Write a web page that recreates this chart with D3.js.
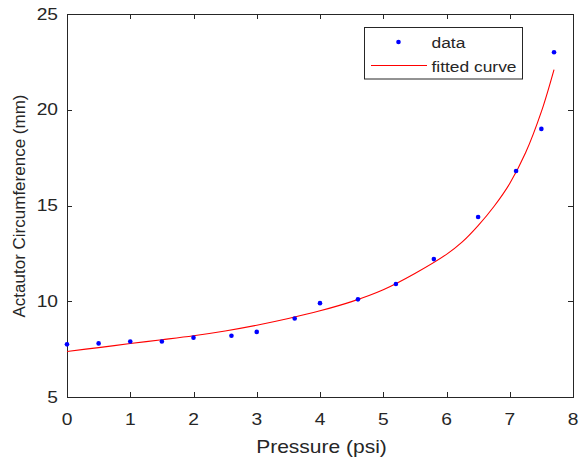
<!DOCTYPE html>
<html lang="en">
  <head>
    <meta charset="utf-8" />
    <script src="https://d3js.org/d3.v7.min.js"></script>
    <style>
      body {
        margin: 0;
        background-color: #fff;
      }
      text {
        font-family: Arial, "Liberation Sans", sans-serif;
        fill: #262626;
      }
      .axis path,
      .axis line {
        stroke: #262626;
        stroke-width: 1px;
        shape-rendering: crispEdges;
      }
    </style>
  </head>
  <body>
    <div id="chart"></div>

    <script>
      // measured points
      const pressure = [0, 0.5, 1, 1.5, 2, 2.6, 3, 3.6, 4, 4.6, 5.2, 5.8, 6.5, 7.1, 7.5, 7.7];
      const circumference = [7.75, 7.8, 7.9, 7.9, 8.1, 8.2, 8.4, 9.1, 9.9, 10.1, 10.9, 12.2, 14.4, 16.8, 19.0, 23.0];

      // fitted curve
      const fitX = [0, 0.5, 1, 1.5, 2, 2.5, 3, 3.5, 4, 4.5, 5, 5.5, 6, 6.25, 6.5, 6.75, 7, 7.25, 7.5, 7.7];
      const fitY = [7.38, 7.58, 7.79, 7.99, 8.2, 8.45, 8.75, 9.1, 9.5, 9.98, 10.6, 11.45, 12.45, 13.1, 13.95, 14.95, 16.15, 17.75, 19.9, 22.1];

      const xTicks = [0, 1, 2, 3, 4, 5, 6, 7, 8];
      const yTicks = [5, 10, 15, 20, 25];

      const width = 579;
      const height = 462;
      const margin = { top: 14, right: 6, bottom: 65, left: 67 };
      const stretch = 1.2; // text in the picture is a bit wide

      const svg = d3
        .select("#chart")
        .append("svg")
        .attr("width", width)
        .attr("height", height);

      const x = d3
        .scaleLinear()
        .domain([0, 8])
        .range([margin.left, width - margin.right]);

      const y = d3
        .scaleLinear()
        .domain([5, 25])
        .range([height - margin.bottom, margin.top]);

      // ticks point inwards, like matlab
      svg
        .append("g")
        .attr("class", "axis")
        .attr("transform", `translate(0,${y(5)})`)
        .call(d3.axisBottom(x).tickValues(xTicks).tickSizeInner(-5).tickSizeOuter(0).tickFormat(""));
      svg
        .append("g")
        .attr("class", "axis")
        .attr("transform", `translate(0,${y(25)})`)
        .call(d3.axisTop(x).tickValues(xTicks).tickSizeInner(-5).tickSizeOuter(0).tickFormat(""));
      svg
        .append("g")
        .attr("class", "axis")
        .attr("transform", `translate(${x(0)},0)`)
        .call(d3.axisLeft(y).tickValues(yTicks).tickSizeInner(-5).tickSizeOuter(0).tickFormat(""));
      svg
        .append("g")
        .attr("class", "axis")
        .attr("transform", `translate(${x(8)},0)`)
        .call(d3.axisRight(y).tickValues(yTicks).tickSizeInner(-5).tickSizeOuter(0).tickFormat(""));

      // tick labels
      svg
        .selectAll(".xlab")
        .data(xTicks)
        .join("text")
        .attr("class", "xlab")
        .attr("text-anchor", "middle")
        .style("font-size", "16px")
        .attr("transform", (d) => `translate(${x(d)},${y(5) + 28}) scale(${stretch},1)`)
        .text((d) => d);

      svg
        .selectAll(".ylab")
        .data(yTicks)
        .join("text")
        .attr("class", "ylab")
        .attr("text-anchor", "end")
        .style("font-size", "16px")
        .attr("transform", (d) => `translate(${x(0) - 9},${y(d) + 5.7}) scale(${stretch},1)`)
        .text((d) => d);

      // axis titles
      svg
        .append("text")
        .attr("text-anchor", "middle")
        .style("font-size", "17.5px")
        .attr("transform", `translate(${(x(0) + x(8)) / 2 + 1.5},453) scale(${stretch},1)`)
        .text("Pressure (psi)");

      svg
        .append("text")
        .attr("text-anchor", "middle")
        .style("font-size", "17px")
        .attr("transform", `translate(25,206) rotate(-90)`)
        .text("Actautor Circumference (mm)");

      // fitted curve
      const line = d3
        .line()
        .x((d, i) => x(fitX[i]))
        .y((d) => y(d))
        .curve(d3.curveCatmullRom);

      svg
        .append("path")
        .datum(fitY)
        .attr("d", line)
        .attr("fill", "none")
        .attr("stroke", "#ff0000")
        .attr("stroke-width", 1.1);

      // data points
      svg
        .selectAll(".pt")
        .data(circumference)
        .join("circle")
        .attr("class", "pt")
        .attr("cx", (d, i) => x(pressure[i]))
        .attr("cy", (d) => y(d))
        .attr("r", 2.3)
        .attr("fill", "#0000ff");

      // legend
      const lg = svg.append("g");
      lg.append("rect")
        .attr("x", 364.5)
        .attr("y", 27.5)
        .attr("width", 158)
        .attr("height", 51.5)
        .attr("fill", "#fff")
        .attr("stroke", "#262626")
        .attr("stroke-width", 1);
      lg.append("circle")
        .attr("cx", 398.5)
        .attr("cy", 42)
        .attr("r", 2.3)
        .attr("fill", "#0000ff");
      lg.append("line")
        .attr("x1", 371)
        .attr("x2", 427)
        .attr("y1", 65.5)
        .attr("y2", 65.5)
        .attr("stroke", "#ff0000")
        .attr("stroke-width", 1.1);
      lg.append("text")
        .style("font-size", "14.5px")
        .attr("transform", `translate(431.5,48) scale(${stretch},1)`)
        .text("data");
      lg.append("text")
        .style("font-size", "14.5px")
        .attr("transform", `translate(431.5,71.5) scale(${stretch},1)`)
        .text("fitted curve");
    </script>
  </body>
</html>
